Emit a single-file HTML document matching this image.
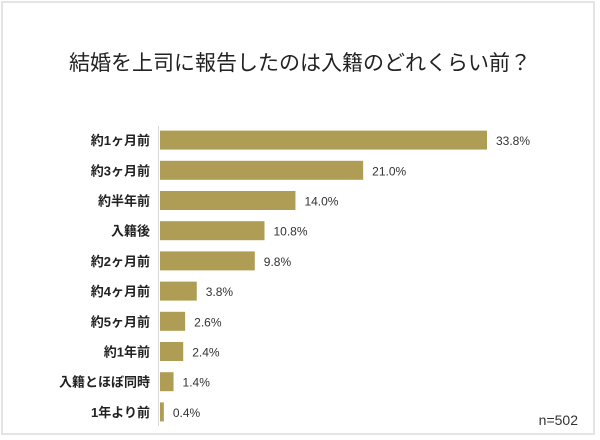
<!DOCTYPE html>
<html><head><meta charset="utf-8"><style>
body{margin:0;background:#fff;}
#wrap{position:relative;width:600px;height:440px;overflow:hidden;font-family:"Liberation Sans","Noto Sans CJK JP",sans-serif;}
#frame{position:absolute;left:1px;top:1px;width:594px;height:434px;border:2px solid #e4e4e4;box-sizing:border-box;}
</style></head><body>
<div id="wrap">
<div id="frame"></div>
<svg id="chart" width="600" height="440" style="position:absolute;left:0;top:0">
<text x="300" y="70" text-anchor="middle" font-size="21" fill="#222">結婚を上司に報告したのは入籍のどれくらい前？</text>
<line x1="158.5" y1="126" x2="158.5" y2="426" stroke="#d9d9d9"/>
<text x="578" y="425" text-anchor="end" font-size="14" fill="#333">n=502</text>
</svg>
</div>
<script>
const categories=["約1ヶ月前","約3ヶ月前","約半年前","入籍後","約2ヶ月前","約4ヶ月前","約5ヶ月前","約1年前","入籍とほぼ同時","1年より前"];
const values=[33.8,21.0,14.0,10.8,9.8,3.8,2.6,2.4,1.4,0.4];
const valueLabels=["33.8%","21.0%","14.0%","10.8%","9.8%","3.8%","2.6%","2.4%","1.4%","0.4%"];
const svg=document.getElementById('chart');
const NS='http://www.w3.org/2000/svg';
const x0=159, pxPer=327/33.8;
const xScale=v=>v*pxPer;
const yTop=125, band=30.2, barH=19;
const yScale=i=>yTop+i*band+(band-barH)/2;
categories.forEach((c,i)=>{
  const y=yScale(i);
  const r=document.createElementNS(NS,'rect');
  r.setAttribute('x',x0+1);r.setAttribute('y',y);
  r.setAttribute('width',xScale(values[i]));r.setAttribute('height',barH);
  r.setAttribute('fill','#b09d55');
  
  
  svg.appendChild(r);
  const t=document.createElementNS(NS,'text');
  t.setAttribute('x',150);t.setAttribute('y',y+barH/2+5);
  t.setAttribute('text-anchor','end');t.setAttribute('font-size','13');
  t.setAttribute('font-weight','bold');t.setAttribute('fill','#222');
  t.textContent=c;
  
  
  svg.appendChild(t);
  const v=document.createElementNS(NS,'text');
  v.setAttribute('x',x0+1+xScale(values[i])+9);v.setAttribute('y',y+barH/2+5);
  v.setAttribute('font-size','12');v.setAttribute('fill','#333');
  v.textContent=valueLabels[i];
  
  
  svg.appendChild(v);
});
</script>
</body></html>
